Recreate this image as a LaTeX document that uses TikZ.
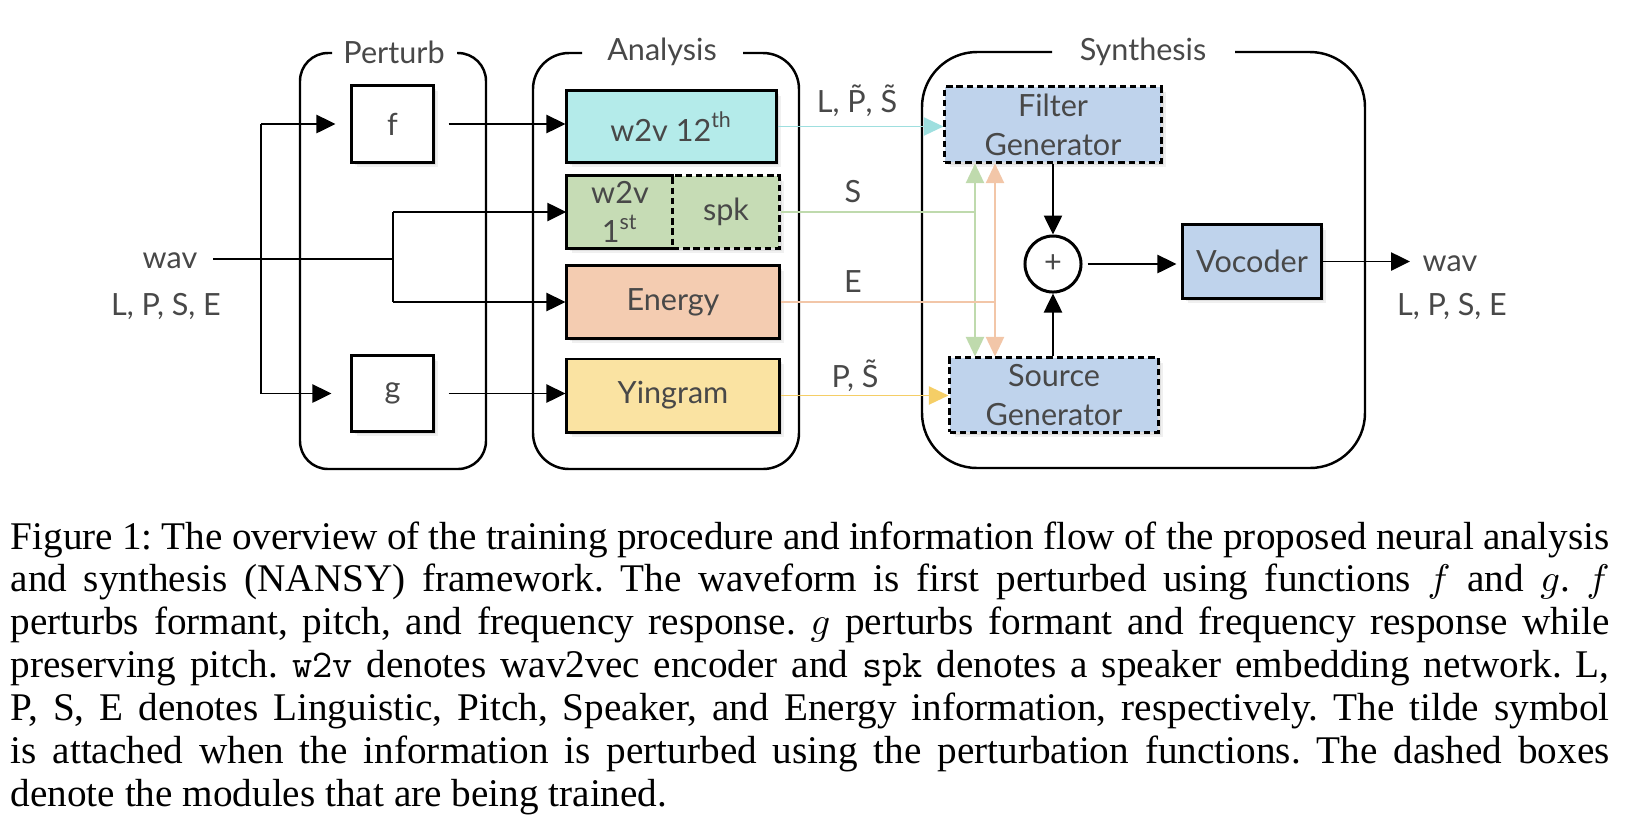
\documentclass[tikz,border=0pt]{standalone}
\usepackage{fontspec}
\setmainfont{Liberation Serif}
\newfontfamily\dg{Lato}
\usetikzlibrary{arrows.meta,shadows,calc}
\definecolor{tcol}{HTML}{484848}
\definecolor{cyanF}{HTML}{B4EBEA}
\definecolor{greenF}{HTML}{C6DCB5}
\definecolor{orangeF}{HTML}{F4CCB1}
\definecolor{yellowF}{HTML}{FAE3A2}
\definecolor{blueF}{HTML}{BFD3EC}
\definecolor{cyanL}{HTML}{9EDFDF}
\definecolor{greenL}{HTML}{BFDAAD}
\definecolor{orangeL}{HTML}{F2C6A8}
\definecolor{yellowL}{HTML}{F5CE66}
\newcommand\capfont{\fontsize{11.15}{12.2}\selectfont\frenchspacing\hyphenpenalty=10000 \exhyphenpenalty=10000 }
\begin{document}
\begin{tikzpicture}[x=0.01cm,y=-0.01cm,
  txt/.style={font=\dg\fontsize{8.7}{11.1}\selectfont, text=tcol},
  box/.style={draw, line width=0.85pt, inner sep=0pt, align=center, txt,
    drop shadow={shadow xshift=1.4pt, shadow yshift=-1.4pt, opacity=0.12},
    drop shadow={shadow xshift=0.8pt, shadow yshift=-0.8pt, opacity=0.15}},
  dbox/.style={box, dash pattern=on 1.8pt off 1.1pt},
  grp/.style={line width=0.7pt},
  conn/.style={line width=0.45pt},
  arr/.style={conn, -{Triangle[length=5.4pt,width=5.2pt]}},
  cline/.style={line width=0.5pt},
  carr/.style={cline, -{Triangle[length=5.6pt,width=5.2pt]}},
  cdarr/.style={cline, {Triangle[length=5.6pt,width=5.2pt]}-{Triangle[length=5.6pt,width=5.2pt]}},
]
\useasboundingbox (0,0) rectangle (1632,826);

% group frames
\draw[grp, rounded corners=0.28cm] (457,53) -- (486,53) -- (486,469) -- (300,469) -- (300,53) -- (332,53);
\draw[grp, rounded corners=0.36cm] (743,53) -- (799,53) -- (799,469) -- (533,469) -- (533,53) -- (582,53);
\draw[grp, rounded corners=0.55cm] (1235,52) -- (1365,52) -- (1365,468) -- (922,468) -- (922,52) -- (1052,52);
\node[txt] (tper) at (394,52) {Perturb};
\node[txt] (tana) at (662,52) {Analysis};
\node[txt] (tsyn) at (1143,52) {Synthesis};

% perturb boxes
\node[box, fill=white, minimum width=0.81cm, minimum height=0.76cm] (f) at (392.5,124) {f};
\node[box, fill=white, minimum width=0.81cm, minimum height=0.75cm] (g) at (392.5,393.5) {g};

% analysis boxes
\node[box, fill=cyanF, minimum width=2.09cm, minimum height=0.71cm] (w12) at (671.5,126.5) {w2v 12\textsuperscript{th}};
\node[fill=greenF, inner sep=0pt, align=center, txt, minimum width=1.06cm, minimum height=0.72cm,
    drop shadow={shadow xshift=1.4pt, shadow yshift=-1.4pt, opacity=0.12},
    drop shadow={shadow xshift=0.8pt, shadow yshift=-0.8pt, opacity=0.15}] (w1) at (620,212) {w2v\\1\textsuperscript{st}};
\node[dbox, fill=greenF, minimum width=1.06cm, minimum height=0.72cm] (spk) at (726,212) {spk};
\draw[line width=0.85pt] (w1.north east) -- (w1.north west) -- (w1.south west) -- (w1.south east);
\node[box, fill=orangeF, minimum width=2.12cm, minimum height=0.72cm] (en) at (673,302) {Energy};
\node[box, fill=yellowF, minimum width=2.12cm, minimum height=0.73cm] (ying) at (673,395.5) {Yingram};

% synthesis boxes
\node[dbox, fill=blueF, minimum width=2.16cm, minimum height=0.75cm] (filt) at (1053,124.5) {Filter\\Generator};
\node[dbox, fill=blueF, minimum width=2.08cm, minimum height=0.74cm] (src) at (1054,395) {Source\\Generator};
\node[draw, circle, line width=0.85pt, minimum size=0.56cm, inner sep=0pt, txt] (plus) at (1053,264) {+};
\node[box, fill=blueF, minimum width=1.38cm, minimum height=0.73cm] (voc) at (1252,261.5) {Vocoder};

% input side
\node[txt] (tin1) at (170,261) {wav};
\node[txt] (tin2) at (166,306) {L, P, S, E};
\coordinate (win) at (213,259);
\coordinate (lv) at (261,259);
\coordinate (br) at (393,259);
\draw[conn] (win) -- (br);
\draw[conn] (lv |- f.west) -- (lv |- g.west);
\draw[arr, shorten >=0.15cm] (lv |- f.west) -- (f.west);
\draw[arr, shorten >=0.19cm] (lv |- g.west) -- (g.west);
\draw[conn] (br |- w1.west) -- (br |- en.west);
\draw[arr] (br |- w1.west) -- (w1.west);
\draw[arr] (br |- en.west) -- (en.west);
\draw[arr, shorten <=0.14cm] (f.east) -- (w12.west |- f.east);
\draw[arr, shorten <=0.14cm] (g.east) -- (ying.west |- g.east);

% coloured connectors
\coordinate (gv) at (975,212);
\coordinate (ov) at (995,302);
\draw[carr, cyanL] (w12.east) -- (filt.west |- w12.east);
\draw[cline, greenL] (spk.east) -- (gv);
\draw[cdarr, greenL] (gv |- filt.south) -- (gv |- src.north);
\draw[cline, orangeL] (en.east) -- (ov);
\draw[cdarr, orangeL] (ov |- filt.south) -- (ov |- src.north);
\draw[carr, yellowL] (ying.east) -- (src.west |- ying.east);
\node[txt] (lL) at (857,101) {L, \~{P}, \~{S}};
\node[txt] (lS) at (853,192) {S};
\node[txt] (lE) at (853,282) {E};
\node[txt] (lP) at (855,376) {P, \~{S}};

% synthesis connectors
\draw[arr] (filt.south) -- (plus.north);
\draw[arr] (plus |- src.north) -- (plus.south);
\draw[arr, shorten <=0.05cm, shorten >=0.05cm] (plus.east) -- (voc.west |- plus.east);
\coordinate (wout) at (1410,262);
\draw[arr] (voc.east) -- (wout |- voc.east);
\node[txt] (tout1) at (1450,264) {wav};
\node[txt] (tout2) at (1452,306) {L, P, S, E};

% caption
\node[anchor=base west, text width=15.98cm, align=justify, inner sep=0pt, font=\capfont] (cap) at (10,549)
{Figure 1: The overview of the training procedure and information flow of the proposed neural analysis\linebreak
and synthesis (NANSY) framework. The waveform is first perturbed using functions $f$ and $g$. $f$\linebreak
perturbs formant, pitch, and frequency response. $g$ perturbs formant and frequency response while\linebreak
preserving pitch. \texttt{w2v} denotes wav2vec encoder and \texttt{spk} denotes a speaker embedding network. L,\linebreak
P, S, E denotes Linguistic, Pitch, Speaker, and Energy information, respectively. The tilde symbol\linebreak
is attached when the information is perturbed using the perturbation functions. The dashed boxes\linebreak
denote the modules that are being trained.};
\end{tikzpicture}
\end{document}
